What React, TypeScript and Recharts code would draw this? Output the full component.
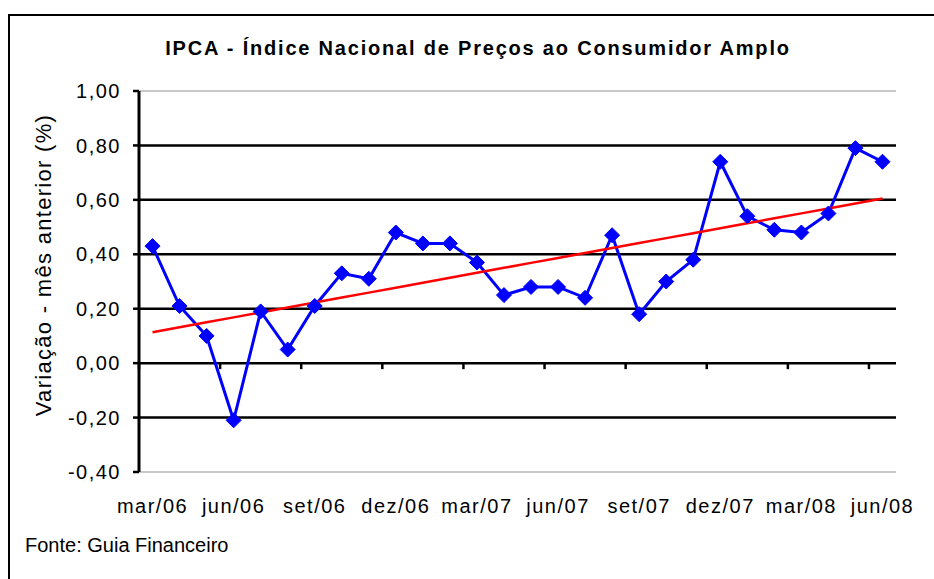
import { ComposedChart, Line, XAxis, YAxis, CartesianGrid } from 'recharts';

const MONTHS = [
  'mar/06', 'abr/06', 'mai/06', 'jun/06', 'jul/06', 'ago/06', 'set/06', 'out/06', 'nov/06', 'dez/06',
  'jan/07', 'fev/07', 'mar/07', 'abr/07', 'mai/07', 'jun/07', 'jul/07', 'ago/07', 'set/07', 'out/07',
  'nov/07', 'dez/07', 'jan/08', 'fev/08', 'mar/08', 'abr/08', 'mai/08', 'jun/08',
];

// IPCA, variação mensal (%)
const IPCA = [
  0.43, 0.21, 0.10, -0.21, 0.19, 0.05, 0.21, 0.33, 0.31, 0.48,
  0.44, 0.44, 0.37, 0.25, 0.28, 0.28, 0.24, 0.47, 0.18, 0.30,
  0.38, 0.74, 0.54, 0.49, 0.48, 0.55, 0.79, 0.74,
];

const Y_TICKS = [-0.4, -0.2, 0, 0.2, 0.4, 0.6, 0.8, 1.0];

const TITLE = 'IPCA - Índice Nacional de Preços ao Consumidor Amplo';
const Y_LABEL = 'Variação - mês anterior (%)';
const SOURCE = 'Fonte: Guia Financeiro';

// linear trend (least squares), like the Excel trendline
const n = IPCA.length;
const meanX = (n - 1) / 2;
const meanY = IPCA.reduce((s, v) => s + v, 0) / n;
let sxy = 0;
let sxx = 0;
IPCA.forEach((v, i) => {
  sxy += (i - meanX) * (v - meanY);
  sxx += (i - meanX) * (i - meanX);
});
const slope = sxy / sxx;
const intercept = meanY - slope * meanX;

const data = MONTHS.map((month, i) => ({
  month,
  ipca: IPCA[i],
  trend: intercept + slope * i,
}));

const W = 934;
const H = 579;
const PLOT_LEFT = 139;
const PLOT_RIGHT = 896;
const PLOT_TOP = 91;
const PLOT_BOTTOM = 472;
const Y_AXIS_W = 70;
const X_AXIS_H = 40;
const Y_MIN = -0.4;
const Y_MAX = 1.0;
const BAND = (PLOT_RIGHT - PLOT_LEFT) / MONTHS.length;
const ZERO_Y = PLOT_TOP + ((PLOT_BOTTOM - PLOT_TOP) * Y_MAX) / (Y_MAX - Y_MIN);

const FONT = '"Liberation Sans", Arial, sans-serif';

const fmt = (v: number) => v.toFixed(2).replace('.', ',');

const Diamond = (props: any) => {
  const { cx, cy, index } = props;
  if (cx == null || cy == null) return null;
  const r = 7.5;
  return (
    <polygon
      key={`d-${index}`}
      points={`${cx},${cy - r} ${cx + r},${cy} ${cx},${cy + r} ${cx - r},${cy}`}
      fill="#0000ff"
      stroke="#0000ff"
      strokeWidth={1}
    />
  );
};

const MonthTick = ({ x, payload }: any) => {
  const edge = x - BAND / 2;
  return (
    <g>
      <line x1={edge} x2={edge} y1={ZERO_Y} y2={ZERO_Y + 6} stroke="#000" strokeWidth={2.5} />
      <text
        x={x}
        y={PLOT_BOTTOM + 41}
        textAnchor="middle"
        fontFamily={FONT}
        fontSize={20}
        letterSpacing={1.5}
        fill="#000"
      >
        {payload.value}
      </text>
    </g>
  );
};

const GridLine = (props: any) => {
  const { x1, x2, y1, y2, index } = props;
  const edge = Math.abs(y1 - PLOT_TOP) < 1.5 || Math.abs(y1 - PLOT_BOTTOM) < 1.5;
  return (
    <line
      key={`g-${index}-${y1}`}
      x1={x1}
      x2={x2}
      y1={y1}
      y2={y2}
      stroke={edge ? '#c8c8c8' : '#000'}
      strokeWidth={edge ? 2 : 2.5}
    />
  );
};

export default function App() {
  return (
    <div style={{ position: 'absolute', left: 0, top: 0, width: W, height: H, overflow: 'hidden', background: '#fff' }}>
      <div
        style={{
          position: 'absolute',
          left: 8,
          top: 14,
          width: 1000,
          height: 700,
          border: '2px solid #000',
          boxSizing: 'border-box',
        }}
      />
      <div style={{ position: 'absolute', left: 0, top: 0 }}>
        <ComposedChart
          width={W}
          height={H}
          data={data}
          margin={{
            top: PLOT_TOP,
            right: W - PLOT_RIGHT,
            bottom: H - PLOT_BOTTOM - X_AXIS_H,
            left: PLOT_LEFT - Y_AXIS_W,
          }}
        >
          <CartesianGrid vertical={false} horizontal={GridLine} />
          <XAxis
            dataKey="month"
            scale="band"
            interval={2}
            axisLine={false}
            tickLine={false}
            tickSize={0}
            tickMargin={0}
            height={X_AXIS_H}
            tick={<MonthTick />}
          />
          <YAxis
            width={Y_AXIS_W}
            domain={[Y_MIN, Y_MAX]}
            ticks={Y_TICKS}
            allowDataOverflow
            tickFormatter={fmt}
            axisLine={{ stroke: '#000', strokeWidth: 3 }}
            tickLine={{ stroke: '#000', strokeWidth: 2.5 }}
            tickSize={6}
            tickMargin={12}
            tick={{ fill: '#000', fontFamily: FONT, fontSize: 20, letterSpacing: 1.5 }}
          />
          <Line
            dataKey="ipca"
            stroke="#0000ff"
            strokeWidth={3}
            dot={Diamond}
            activeDot={false}
            isAnimationActive={false}
          />
          <Line
            dataKey="trend"
            stroke="#ff0000"
            strokeWidth={2.5}
            dot={false}
            activeDot={false}
            isAnimationActive={false}
          />
        </ComposedChart>
      </div>
      <svg width={W} height={H} style={{ position: 'absolute', left: 0, top: 0, pointerEvents: 'none' }}>
        <text
          x={478}
          y={55}
          textAnchor="middle"
          fontFamily={FONT}
          fontWeight="bold"
          fontSize={20}
          letterSpacing={1.8}
          fill="#000"
        >
          {TITLE}
        </text>
        <text
          x={51}
          y={265}
          transform="rotate(-90, 51, 265)"
          textAnchor="middle"
          fontFamily={FONT}
          fontSize={22}
          letterSpacing={1.3}
          fill="#000"
        >
          {Y_LABEL}
        </text>
        <text x={25} y={552} fontFamily={FONT} fontSize={20} fill="#000">
          {SOURCE}
        </text>
      </svg>
    </div>
  );
}
